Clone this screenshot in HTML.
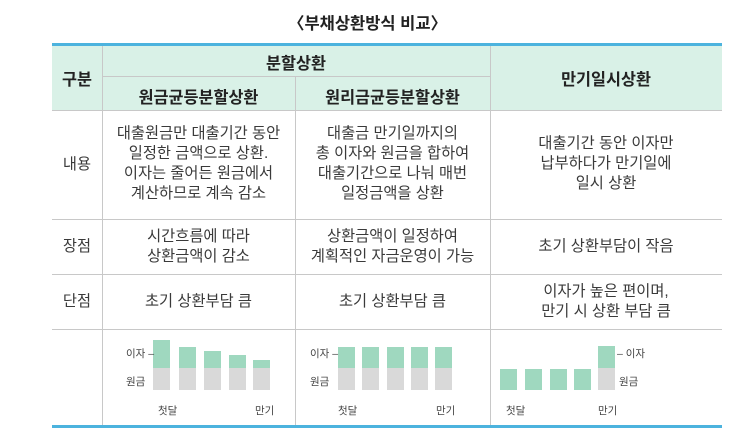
<!DOCTYPE html>
<html><head><meta charset="utf-8"><style>
body{margin:0;width:735px;height:447px;background:#fff;position:relative;overflow:hidden;font-family:"Liberation Sans","Noto Sans CJK KR",sans-serif;color:#333}
.a{position:absolute}
.t{position:absolute;text-align:center;font-size:15.3px;line-height:20px;color:#3a3a3a}
.h{position:absolute;text-align:center;font-weight:bold;font-size:16.3px;color:#222}
.vl{position:absolute;width:1px;background:#c8c8c8}
.hl{position:absolute;height:1px;background:#c8c8c8}
.g{position:absolute;background:#9fd8bf}
.y{position:absolute;background:#d9d9d9}
.s{position:absolute;font-size:10.5px;color:#444}
</style></head><body>
<div class="h" style="left:0;width:735px;top:10px;font-size:16.5px">〈부채상환방식 비교〉</div>
<div class="a" style="left:52px;top:44px;width:670px;height:66px;background:#d9f1e7"></div>
<div class="a" style="left:52px;top:43px;width:670px;height:3px;background:#4cb3de"></div>
<div class="a" style="left:52px;top:425px;width:670px;height:3px;background:#4cb3de"></div>
<div class="vl" style="left:102px;top:46px;height:379px"></div>
<div class="vl" style="left:295px;top:76px;height:349px"></div>
<div class="vl" style="left:490px;top:46px;height:379px"></div>
<div class="hl" style="left:102px;top:76px;width:388px"></div>
<div class="hl" style="left:52px;top:110px;width:670px"></div>
<div class="hl" style="left:52px;top:219px;width:670px"></div>
<div class="hl" style="left:52px;top:274px;width:670px"></div>
<div class="hl" style="left:52px;top:329px;width:670px"></div>
<div class="h" style="left:52px;width:50px;top:66px">구분</div>
<div class="h" style="left:102px;width:388px;top:50px">분할상환</div>
<div class="h" style="left:102px;width:193px;top:84px">원금균등분할상환</div>
<div class="h" style="left:295px;width:195px;top:84px">원리금균등분할상환</div>
<div class="h" style="left:490px;width:232px;top:66px">만기일시상환</div>
<div class="t" style="left:52px;width:50px;top:155px">내용</div>
<div class="t" style="left:102px;width:193px;top:124px">대출원금만 대출기간 동안<br>일정한 금액으로 상환.<br>이자는 줄어든 원금에서<br>계산하므로 계속 감소</div>
<div class="t" style="left:295px;width:195px;top:124px">대출금 만기일까지의<br>총 이자와 원금을 합하여<br>대출기간으로 나눠 매번<br>일정금액을 상환</div>
<div class="t" style="left:490px;width:232px;top:134px">대출기간 동안 이자만<br>납부하다가 만기일에<br>일시 상환</div>
<div class="t" style="left:52px;width:50px;top:237px">장점</div>
<div class="t" style="left:102px;width:193px;top:227px">시간흐름에 따라<br>상환금액이 감소</div>
<div class="t" style="left:295px;width:195px;top:227px">상환금액이 일정하여<br>계획적인 자금운영이 가능</div>
<div class="t" style="left:490px;width:232px;top:237px">초기 상환부담이 작음</div>
<div class="t" style="left:52px;width:50px;top:292px">단점</div>
<div class="t" style="left:102px;width:193px;top:292px">초기 상환부담 큼</div>
<div class="t" style="left:295px;width:195px;top:292px">초기 상환부담 큼</div>
<div class="t" style="left:490px;width:232px;top:282px">이자가 높은 편이며,<br>만기 시 상환 부담 큼</div>
<!-- chart1 -->
<div class="g" style="left:153px;top:340px;width:17px;height:28px"></div>
<div class="g" style="left:179px;top:347px;width:17px;height:21px"></div>
<div class="g" style="left:204px;top:351px;width:17px;height:17px"></div>
<div class="g" style="left:229px;top:355px;width:17px;height:13px"></div>
<div class="g" style="left:253px;top:360px;width:17px;height:8px"></div>
<div class="y" style="left:153px;top:368px;width:17px;height:22px"></div>
<div class="y" style="left:179px;top:368px;width:17px;height:22px"></div>
<div class="y" style="left:204px;top:368px;width:17px;height:22px"></div>
<div class="y" style="left:229px;top:368px;width:17px;height:22px"></div>
<div class="y" style="left:253px;top:368px;width:17px;height:22px"></div>
<div class="s" style="left:126px;top:346px">이자 –</div>
<div class="s" style="left:126px;top:374px">원금</div>
<div class="s" style="left:158px;top:403px">첫달</div>
<div class="s" style="left:255px;top:403px">만기</div>
<!-- chart2 -->
<div class="g" style="left:338px;top:347px;width:17px;height:21px"></div>
<div class="g" style="left:362px;top:347px;width:17px;height:21px"></div>
<div class="g" style="left:387px;top:347px;width:17px;height:21px"></div>
<div class="g" style="left:411px;top:347px;width:17px;height:21px"></div>
<div class="g" style="left:435px;top:347px;width:17px;height:21px"></div>
<div class="y" style="left:338px;top:368px;width:17px;height:22px"></div>
<div class="y" style="left:362px;top:368px;width:17px;height:22px"></div>
<div class="y" style="left:387px;top:368px;width:17px;height:22px"></div>
<div class="y" style="left:411px;top:368px;width:17px;height:22px"></div>
<div class="y" style="left:435px;top:368px;width:17px;height:22px"></div>
<div class="s" style="left:310px;top:346px">이자 –</div>
<div class="s" style="left:310px;top:374px">원금</div>
<div class="s" style="left:338px;top:403px">첫달</div>
<div class="s" style="left:436px;top:403px">만기</div>
<!-- chart3 -->
<div class="g" style="left:500px;top:369px;width:17px;height:21px"></div>
<div class="g" style="left:525px;top:369px;width:17px;height:21px"></div>
<div class="g" style="left:550px;top:369px;width:17px;height:21px"></div>
<div class="g" style="left:574px;top:369px;width:17px;height:21px"></div>
<div class="g" style="left:598px;top:346px;width:17px;height:22px"></div>
<div class="y" style="left:598px;top:368px;width:17px;height:22px"></div>
<div class="s" style="left:617px;top:346px">– 이자</div>
<div class="s" style="left:619px;top:374px">원금</div>
<div class="s" style="left:506px;top:403px">첫달</div>
<div class="s" style="left:598px;top:403px">만기</div>
</body></html>
